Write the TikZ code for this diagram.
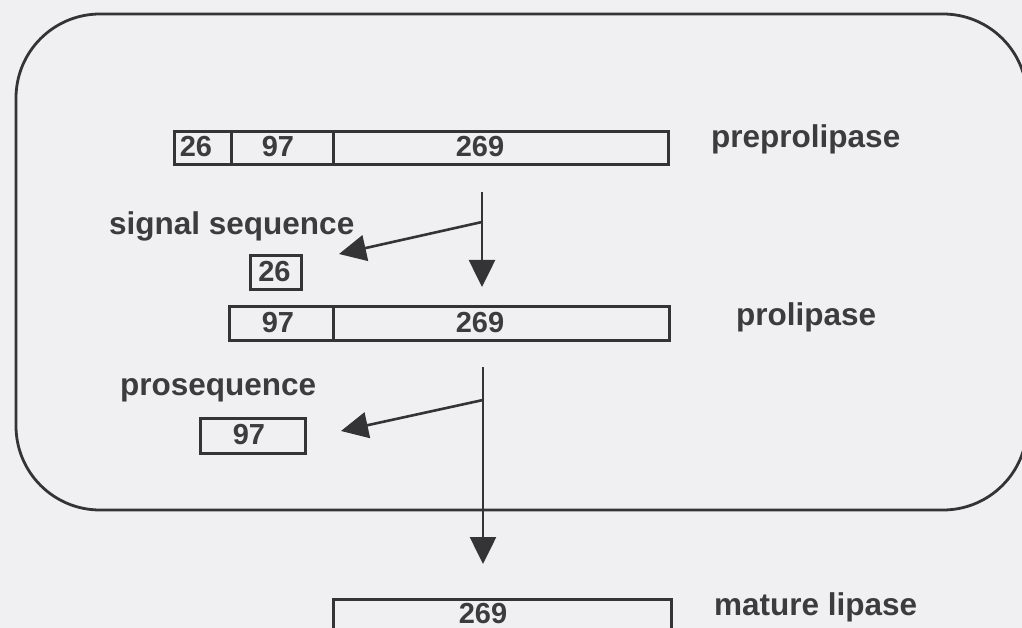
\documentclass[tikz,border=0pt]{standalone}
\usepackage{fontspec}
\setmainfont{Liberation Sans}
\usetikzlibrary{arrows.meta}
\definecolor{bg}{HTML}{F0F0F2}
\definecolor{ink}{HTML}{343436}
\definecolor{txt}{HTML}{3C3B3E}
\tikzset{
  seg/.style={draw=ink, line width=2.8pt, minimum height=33pt, inner sep=0pt, anchor=north west, fill=none},
  num/.style={text=txt, font=\fontsize{29}{29}\selectfont\bfseries, anchor=base, inner sep=0pt},
  lab/.style={text=txt, font=\fontsize{31.5}{31}\selectfont\bfseries, anchor=base west, inner sep=0pt},
  arr/.style={draw=ink, line width=2.6pt, -{Triangle[width=26pt,length=27pt]}},
}
\begin{document}
\begin{tikzpicture}[x=1pt,y=-1pt]
\useasboundingbox (0,0) rectangle (1022,628);
\fill[bg] (0,0) rectangle (1022,628);
% outer rounded frame
\draw[ink, line width=2.8pt, rounded corners=84pt] (16,14) rectangle (1027,510);

% preprolipase bar
\node[seg, minimum width=57pt] (p26) at (173,130) {};
\node[seg, minimum width=102pt] (p97) at (230,130) {};
\node[seg, minimum width=335pt] (p269) at (332,130) {};
\node[num] (tp26) at (196,157) {26};
\node[num] (tp97) at (278,157) {97};
\node[num] (tp269) at (480,157) {269};
\node[lab] (lpre) at (711,148) {preprolipase};

% first cleavage
\coordinate (a1s) at (482,192);
\coordinate (a1b) at (482,222);
\coordinate (a1e) at (482,287);
\node[lab] (lsig) at (109,235) {signal sequence};
\node[seg, minimum width=51pt, minimum height=34pt] (s26) at (249,254) {};
\node[num] (ts26) at (274.5,281) {26};
\coordinate (a1t) at (339,254);
\draw[arr] (a1s) -- (a1e);
\draw[arr] (a1b) -- (a1t);

% prolipase bar
\node[seg, minimum width=104pt, minimum height=34pt] (r97) at (228,305) {};
\node[seg, minimum width=336pt, minimum height=34pt] (r269) at (332,305) {};
\node[num] (tr97) at (278,332) {97};
\node[num] (tr269) at (480,332) {269};
\node[lab] (lpro) at (736,325) {prolipase};

% second cleavage
\coordinate (a2s) at (483,367);
\coordinate (a2b) at (483,400);
\coordinate (a2e) at (483,564);
\node[lab] (lprs) at (120,395) {prosequence};
\node[seg, minimum width=105pt, minimum height=35pt] (s97) at (199,417) {};
\node[num] (ts97) at (249,444) {97};
\coordinate (a2t) at (341,431);
\draw[arr] (a2s) -- (a2e);
\draw[arr] (a2b) -- (a2t);

% mature lipase bar
\node[seg, minimum width=338pt, minimum height=34pt] (m269) at (332,598) {};
\node[num] (tm269) at (483,623) {269};
\node[lab] (lmat) at (714,615) {mature lipase};
\end{tikzpicture}
\end{document}
